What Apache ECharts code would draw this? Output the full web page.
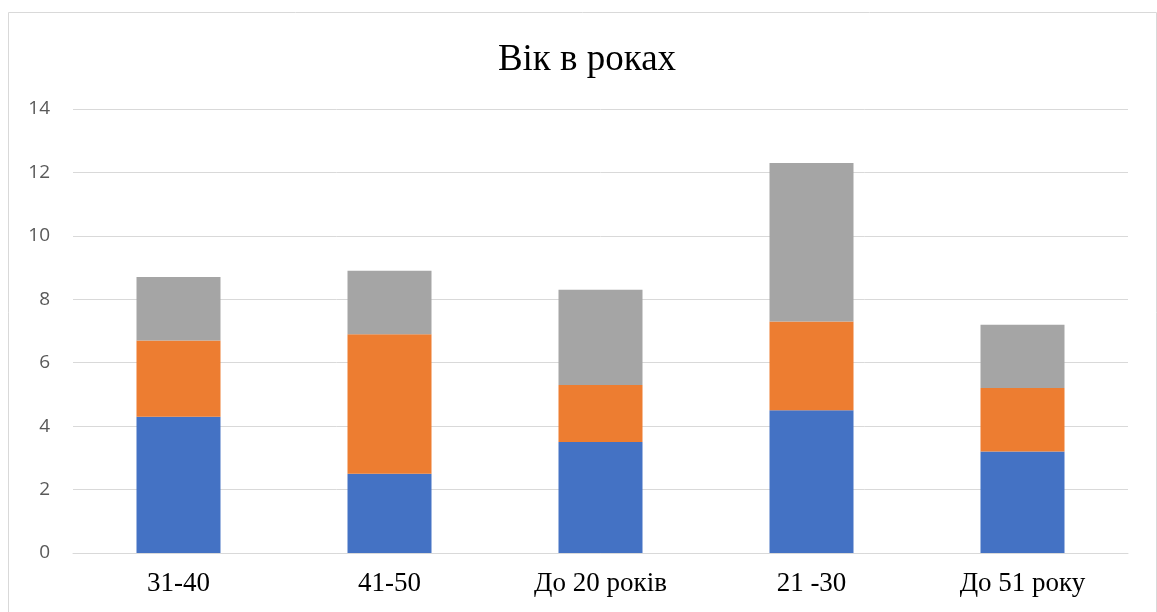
<!DOCTYPE html>
<html>
<head>
<meta charset="utf-8">
<script src="https://cdn.jsdelivr.net/npm/echarts@6/dist/echarts.min.js"></script>
<style>
html,body{margin:0;padding:0;background:#fff;}
#chart{width:1157px;height:612px;}
</style>
</head>
<body>
<div id="chart"></div>
<script>
const categories = ['31-40', '41-50', 'До 20 років', '21 -30', 'До 51 року'];
const series1 = [4.3, 2.5, 3.5, 4.5, 3.2];
const series2 = [2.4, 4.4, 1.8, 2.8, 2.0];
const series3 = [2.0, 2.0, 3.0, 5.0, 2.0];
const seriesNames = ['Ряд 1', 'Ряд 2', 'Ряд 3'];
const yTicks = { min: 0, max: 14, interval: 2 };

const chart = echarts.init(document.getElementById('chart'));
const colors = ['#4472C4', '#ED7D31', '#A5A5A5'];
const datas = [series1, series2, series3];
chart.setOption({
  animation: false,
  title: {
    text: 'Вік в роках',
    left: 582, top: 37,
    textAlign: 'center',
    textStyle: { fontFamily: 'Liberation Serif', fontSize: 37, fontWeight: 'normal', color: '#000' }
  },
  graphic: [{
    type: 'rect',
    shape: { x: 8.5, y: 12.5, width: 1148, height: 640 },
    style: { fill: 'none', stroke: '#d9d9d9', lineWidth: 1 },
    silent: true
  }],
  grid: { left: 73, right: 29, top: 109, bottom: 59, containLabel: false },
  xAxis: {
    type: 'category',
    data: categories,
    axisLine: { lineStyle: { color: '#d9d9d9', width: 1 } },
    axisTick: { show: false },
    axisLabel: { fontFamily: 'Liberation Serif', fontSize: 27, color: '#000', margin: 17 }
  },
  yAxis: {
    type: 'value',
    min: yTicks.min, max: yTicks.max, interval: yTicks.interval,
    axisLine: { show: false },
    axisTick: { show: false },
    splitLine: { lineStyle: { color: '#d9d9d9', width: 1 } },
    axisLabel: { fontFamily: 'Open Sans', fontSize: 19, color: '#595959', margin: 23 }
  },
  series: datas.map((d, i) => ({
    name: seriesNames[i],
    type: 'bar',
    stack: 'total',
    data: d,
    barWidth: 84,
    itemStyle: { color: colors[i] }
  }))
});
</script>
</body>
</html>
